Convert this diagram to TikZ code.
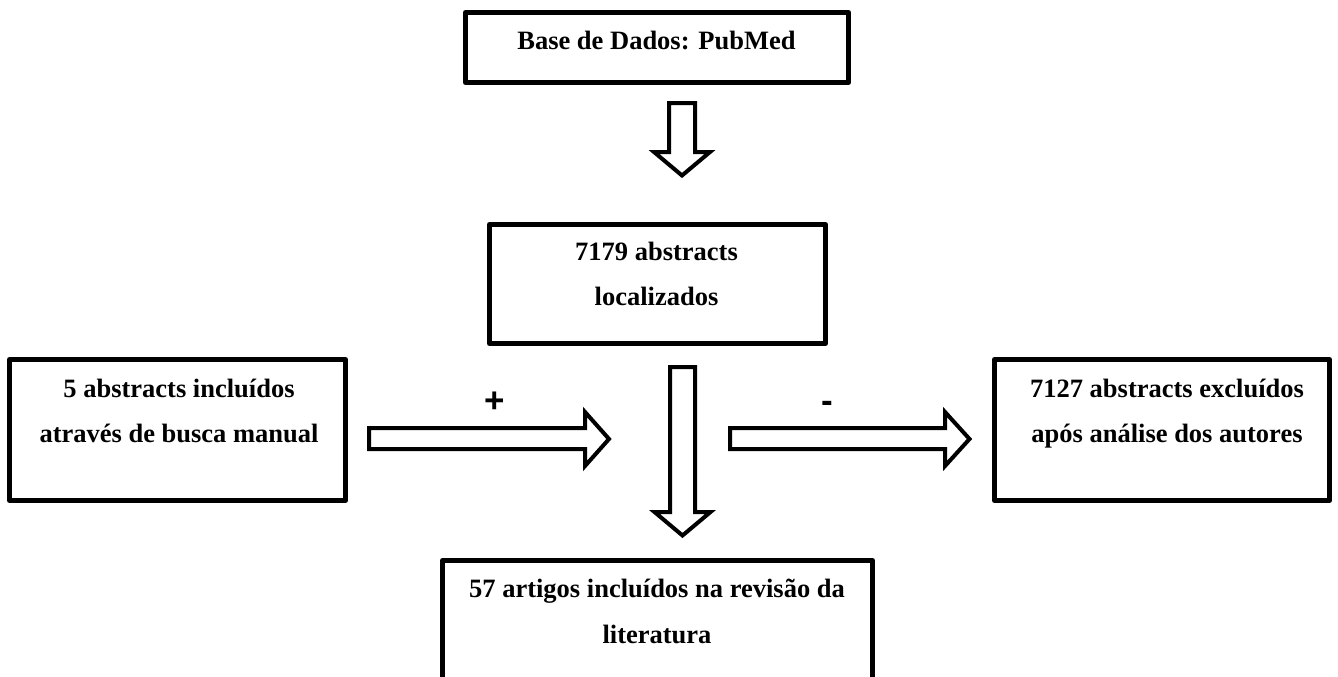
\documentclass[tikz,border=0pt]{standalone}
\usepackage{fontspec}
\setmainfont{Liberation Serif}
\newfontfamily\signfont{Liberation Sans}
\begin{document}
\begin{tikzpicture}[x=1pt,y=-1pt,
  box/.style={draw, line width=4.8pt, inner sep=0pt, outer sep=0pt, line join=round},
  lbl/.style={font=\fontsize{26.5}{32}\selectfont\bfseries, anchor=base, inner sep=0pt},
  sign/.style={font=\signfont\fontsize{35}{40}\selectfont\bfseries, anchor=base, inner sep=0pt},
  blockarrow/.style={draw, line width=4pt, fill=white, line join=miter, miter limit=10}]
\useasboundingbox (0,0) rectangle (1338,677);
\clip (0,0) rectangle (1338,677);
% boxes
\node[box, minimum width=383.2pt, minimum height=70.2pt] (db) at (657,47.5) {};
\node[box, minimum width=336.2pt, minimum height=119.2pt] (loc) at (657.5,284) {};
\node[box, minimum width=336.2pt, minimum height=141.2pt] (man) at (177.5,430) {};
\node[box, minimum width=335.2pt, minimum height=141.2pt] (exc) at (1162,430) {};
\node[box, minimum width=430.2pt, minimum height=160pt] (inc) at (657.5,640.4) {};
% texts
\node[lbl] (dbT) at (656.5,50) {Base de Dados: PubMed};
\node[lbl] (locT1) at (656.5,260) {7179 abstracts};
\node[lbl] (locT2) at (656.5,305) {localizados};
\node[lbl] (manT1) at (179,397) {5 abstracts incluídos};
\node[lbl] (manT2) at (179,442) {através de busca manual};
\node[lbl] (excT1) at (1167,397) {7127 abstracts excluídos};
\node[lbl] (excT2) at (1167,442) {após análise dos autores};
\node[lbl] (incT1) at (657,597) {57 artigos incluídos na revisão da};
\node[lbl] (incT2) at (657,643) {literatura};
% block arrows
\draw[blockarrow] (669,103) -- (695,103) -- (695,152) -- (710,152) -- (682,175.5) -- (654,152) -- (669,152) -- cycle;
\draw[blockarrow] (670,367) -- (695,367) -- (695,512) -- (710.5,512) -- (682.5,535.5) -- (654.5,512) -- (670,512) -- cycle;
\draw[blockarrow] (369,428) -- (585,428) -- (585,412) -- (609,439) -- (585,466) -- (585,449) -- (369,449) -- cycle;
\draw[blockarrow] (730,428) -- (945,428) -- (945,412) -- (969.5,439) -- (945,466) -- (945,449) -- (730,449) -- cycle;
% signs
\node[sign] (plus) at (495,412) {+};
\node[sign] (minus) at (827,412.5) {-};
\end{tikzpicture}
\end{document}
